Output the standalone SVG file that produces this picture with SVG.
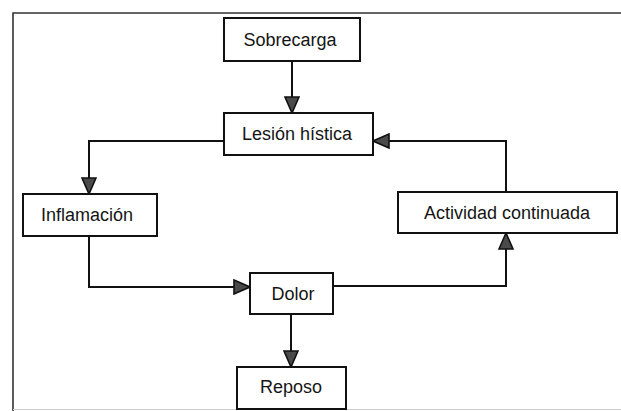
<svg xmlns="http://www.w3.org/2000/svg" width="621" height="411" viewBox="0 0 621 411">
<defs>
<style>
.box{fill:#fff;stroke:#111;stroke-width:2}
.lbl{font-family:"Liberation Sans",Arial,sans-serif;font-size:18px;fill:#151515;text-anchor:middle}
.con{fill:none;stroke:#111;stroke-width:2}
.frame{fill:none;stroke:#333;stroke-width:1.6}
</style>
<marker id="arr" viewBox="0 0 18 16" refX="17" refY="8" markerWidth="18" markerHeight="16" markerUnits="userSpaceOnUse" orient="auto">
<path d="M1,1 L17,8 L1,15 z" fill="#4a4a4a" stroke="#111" stroke-width="1.6" stroke-linejoin="miter"/>
</marker>
</defs>
<rect width="621" height="411" fill="#fff"/>
<g id="frame">
<path class="frame" d="M13,411 L13,13 L621,13"/>
<path d="M13,409.5 L621,409.5" stroke="#ccc" stroke-width="1" fill="none"/>
</g>
<g id="connectors">
<path class="con" d="M292,61 L292,113" marker-end="url(#arr)"/>
<path class="con" d="M224,141 L89,141 L89,194" marker-end="url(#arr)"/>
<path class="con" d="M89,236 L89,287 L250,287" marker-end="url(#arr)"/>
<path class="con" d="M333,286 L506,286 L506,233" marker-end="url(#arr)"/>
<path class="con" d="M506,192 L506,141 L373,141" marker-end="url(#arr)"/>
<path class="con" d="M291,314 L291,367" marker-end="url(#arr)"/>
</g>
<g id="sobrecarga">
<rect class="box" x="224" y="18" width="136" height="43"/>
<text class="lbl" x="290" y="46">Sobrecarga</text>
</g>
<g id="lesion">
<rect class="box" x="224" y="113" width="149" height="42"/>
<text class="lbl" x="297" y="140">Lesión hística</text>
</g>
<g id="inflamacion">
<rect class="box" x="23" y="194" width="134" height="42"/>
<text class="lbl" x="87" y="221">Inflamación</text>
</g>
<g id="actividad">
<rect class="box" x="398" y="192" width="219" height="41"/>
<text class="lbl" x="507" y="219">Actividad continuada</text>
</g>
<g id="dolor">
<rect class="box" x="250" y="273" width="83" height="41"/>
<text class="lbl" x="293" y="300">Dolor</text>
</g>
<g id="reposo">
<rect class="box" x="237" y="367" width="109" height="42"/>
<text class="lbl" x="291" y="393">Reposo</text>
</g>
</svg>
